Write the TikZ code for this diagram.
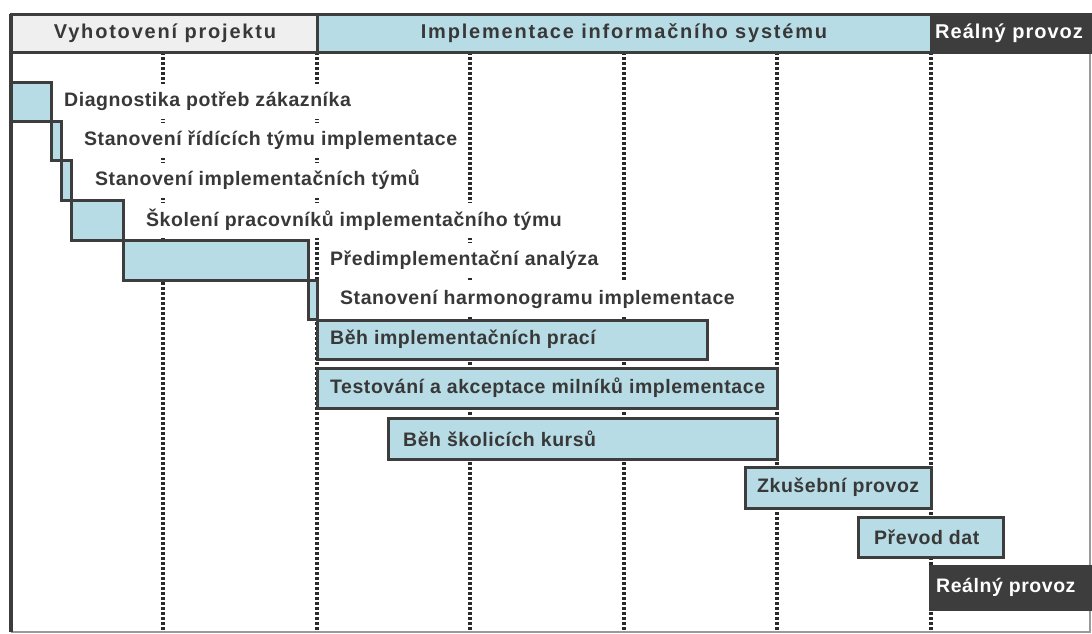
\documentclass[tikz,border=0pt]{standalone}
\usepackage{fontspec}
\setmainfont{Liberation Sans}
\definecolor{frame}{HTML}{3D3D3D}
\definecolor{dotc}{HTML}{2A2A2A}
\definecolor{barblue}{HTML}{B7DCE5}
\definecolor{hdrgray}{HTML}{EFEFEF}
\definecolor{txt}{HTML}{383838}
\definecolor{edge}{HTML}{9A9A9A}
\newcommand{\ganttbar}[6]{%
  \node[#6, minimum width={(#4-#2)*1pt}, minimum height={(#5-#3)*1pt}] (#1) at ({(#2+#4)/2},{(#3+#5)/2}) {};}
\begin{document}
\begin{tikzpicture}[x=1pt,y=-1pt,
  bar/.style={draw=frame, line width=3pt, fill=barblue, inner sep=0pt},
  darkbar/.style={draw=frame, line width=3pt, fill=frame, inner sep=0pt},
  lbl/.style={anchor=west, text=txt, inner xsep=4pt, inner ysep=0pt, minimum height=35pt,
    font=\fontsize{19.5}{22}\selectfont\bfseries\addfontfeature{LetterSpace=2.8}},
  wlbl/.style={lbl, fill=white},
  hdr/.style={text=txt, inner sep=0pt,
    font=\fontsize{20}{22}\selectfont\bfseries\addfontfeature{LetterSpace=9}},
  vdots/.style={dotc, line width=3.6pt, dash pattern=on 3.2pt off 1.8pt}
]
\useasboundingbox (0,0) rectangle (1092,633);
\begin{scope}
\clip (0,0) rectangle (1092,633);
% background
\fill[white] (0,0) rectangle (1092,633);
% vertical dotted grid
\coordinate (gatop) at (163,52);  \coordinate (gabot) at (163,632);
\coordinate (gbtop) at (317,52);  \coordinate (gbbot) at (317,632);
\coordinate (gctop) at (470,52);  \coordinate (gcbot) at (470,632);
\coordinate (gdtop) at (624,52);  \coordinate (gdbot) at (624,632);
\coordinate (getop) at (777,52);  \coordinate (gebot) at (777,632);
\coordinate (gftop) at (931,52);  \coordinate (gfbot) at (931,632);
\draw[vdots] (gatop) -- (gabot);
\draw[vdots] (gbtop) -- (gbbot);
\draw[vdots] (gctop) -- (gcbot);
\draw[vdots] (gdtop) -- (gdbot);
\draw[vdots] (getop) -- (gebot);
\draw[vdots] (gftop) -- (gfbot);
% outer frame
\coordinate (fTL) at (11,14);
\coordinate (fBL) at (11,632);
\coordinate (fBR) at (1090,632);
\coordinate (fTR) at (1090,52);
\draw[edge, line width=1.5pt] (fBL) -- (fBR) -- (fTR);
% header
\node[draw=frame, line width=3pt, fill=hdrgray, inner sep=0pt, minimum width=306pt, minimum height=38pt] (h1) at (164,33) {};
\node[draw=frame, line width=3pt, fill=barblue, inner sep=0pt, minimum width=614pt, minimum height=38pt] (h2) at (624,33) {};
\node[draw=frame, line width=3pt, fill=frame, inner sep=0pt, minimum width=170pt, minimum height=38pt] (h3) at (1016,33) {};
\node[hdr] (t1) at (165,33) {Vyhotovení projektu};
\node[hdr] (t2) at (624,33) {Implementace informačního systému};
\node[hdr, text=white, anchor=west, font=\fontsize{20}{22}\selectfont\bfseries\addfontfeature{LetterSpace=5}] (t3) at (935,33) {Reálný provoz};
% labels with white background (rows 1-6)
\node[wlbl] (l1) at (60,101) {Diagnostika potřeb zákazníka};
\node[wlbl] (l2) at (80,140.5) {Stanovení řídících týmu implementace};
\node[wlbl] (l3) at (91,180) {Stanovení implementačních týmů};
\node[wlbl] (l4) at (142,220) {Školení pracovníků implementačního týmu};
\node[wlbl] (l5) at (326,260) {Předimplementační analýza};
\node[wlbl] (l6) at (336,299.5) {Stanovení harmonogramu implementace};
% bars
\ganttbar{b1}{11}{82}{51}{121}{bar}
\ganttbar{b2}{51}{121}{61}{160}{bar}
\ganttbar{b3}{61}{160}{71}{200}{bar}
\ganttbar{b4}{71}{200}{123}{240}{bar}
\ganttbar{b5}{123}{240}{308}{280}{bar}
\ganttbar{b6}{308}{280}{317}{319}{bar}
\ganttbar{b7}{317}{320}{707}{359}{bar}
\ganttbar{b8}{317}{368}{777}{408}{bar}
\ganttbar{b9}{388}{418}{777}{459}{bar}
\ganttbar{b10}{745}{467}{931}{508}{bar}
\ganttbar{b11}{858}{517}{1003}{557}{bar}
\ganttbar{b12}{930}{566}{1100}{609}{darkbar}
\draw[frame, line width=3.2pt] (fTL) -- (fBL);
% labels in bars
\node[lbl] (l7) at (326,339.5) {Běh implementačních prací};
\node[lbl] (l8) at (326,388) {Testování a akceptace milníků implementace};
\node[lbl] (l9) at (399,438.5) {Běh školicích kursů};
\node[lbl] (l10) at (753,487.5) {Zkušební provoz};
\node[lbl] (l11) at (870,537) {Převod dat};
\node[lbl, text=white] (l12) at (932,587.5) {Reálný provoz};
\end{scope}
\end{tikzpicture}
\end{document}
